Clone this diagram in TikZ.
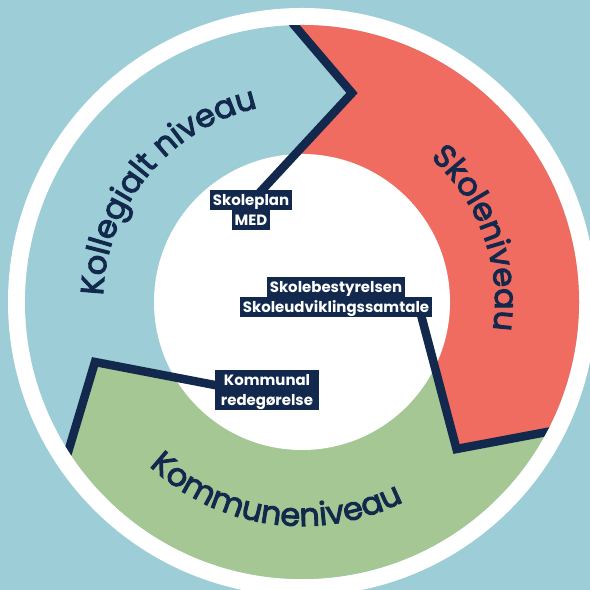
\documentclass[tikz,border=0pt]{standalone}
\usepackage{fontspec}
\usepackage{tikz}
\usetikzlibrary{positioning,backgrounds,decorations.text}
\newfontfamily\poppins{Poppins}
\newfontfamily\poppinsheavy{Poppins}[FakeBold=3]
\newcommand\arcfont{\poppinsheavy\fontsize{32}{32}\selectfont}
\definecolor{bgblue}{HTML}{9DCDD6}
\definecolor{skolered}{HTML}{F06B60}
\definecolor{kommunegreen}{HTML}{A4C794}
\definecolor{navy}{HTML}{12294D}

\tikzset{
  tag/.style={fill=navy, text=white, font=\poppins\bfseries\fontsize{15}{15}\selectfont,
    inner xsep=2.5bp, inner ysep=1.5bp, text height=14bp, text depth=3bp},
  divider/.style={draw=navy, line width=8.5bp, miter limit=10},
  arclabel/.style={decorate, decoration={text along path, text align=center, text color=navy}},
}

\begin{document}
\begin{tikzpicture}[x=1bp,y=1bp]
    \useasboundingbox (0,0) rectangle (590,590);
    \coordinate (O) at (302,288);

    % labels in the middle
    \node[tag] (skoleplan) at (251,390) {Skoleplan};
    \node[tag, below=-0.3bp of skoleplan] (med) {MED};
    \node[tag] (bestyrelsen) at (336,303) {Skolebestyrelsen};
    \node[tag, below=-0.3bp of bestyrelsen] (samtale) {Skoleudviklingssamtale};
    \node[tag, minimum width=104bp] (kommunal) at (267,210) {Kommunal};
    \node[tag, minimum width=104bp, below=-0.3bp of kommunal] (redegoerelse) {redegørelse};

    % corners of the dividers
    \coordinate (rimA) at (283,578);
    \coordinate (tipA) at (352,497);
    \coordinate (endA) at ([xshift=8.5bp,yshift=-3bp]skoleplan.north);
    \coordinate (rimB) at (600,168);
    \coordinate (tipB) at (456.5,141);
    \coordinate (endB) at ([xshift=-11bp,yshift=3bp]samtale.south east);
    \coordinate (rimC) at (60,111);
    \coordinate (tipC) at (95,228);
    \coordinate (endC) at ([xshift=3bp,yshift=-5.6bp]kommunal.west);

    \begin{scope}[on background layer]
        \fill[bgblue] (0,0) rectangle (590,590);
        \fill[white] (O) circle[radius=294bp];
        \fill[bgblue] (O) circle[radius=277bp];
        \begin{scope}
            \clip (O) circle[radius=277bp];
            \fill[skolered] (rimA) -- (tipA) -- (endA) -- (O) -- (endB) -- (tipB) -- (rimB)
                -- (700,168) -- (700,700) -- (283,700) -- cycle;
            \fill[kommunegreen] (rimB) -- (tipB) -- (endB) -- (O) -- (endC) -- (tipC) -- (rimC)
                -- (40,-100) -- (700,-100) -- (700,168) -- cycle;
        \end{scope}
        \fill[white] (O) circle[radius=148bp];
        \begin{scope}
            \clip (O) circle[radius=277bp];
            \draw[divider] (rimA) -- (tipA) -- (endA);
            \draw[divider] (rimB) -- (tipB) -- (endB);
            \draw[divider] (rimC) -- (tipC) -- (endC);
        \end{scope}
    \end{scope}

    % ring titles
    \path[arclabel, decoration={text={|\arcfont|Kollegialt niveau}}]
        (O) ++(185:199bp) arc[start angle=185, end angle=96, radius=199bp];
    \path[arclabel, decoration={text={|\arcfont|Skoleniveau}}]
        (O) ++(66:193bp) arc[start angle=66, end angle=-26, radius=193bp];
    \path[arclabel, decoration={text={|\arcfont|Kommuneniveau}}]
        (O) ++(200:224bp) arc[start angle=200, end angle=324, radius=224bp];
\end{tikzpicture}
\end{document}
